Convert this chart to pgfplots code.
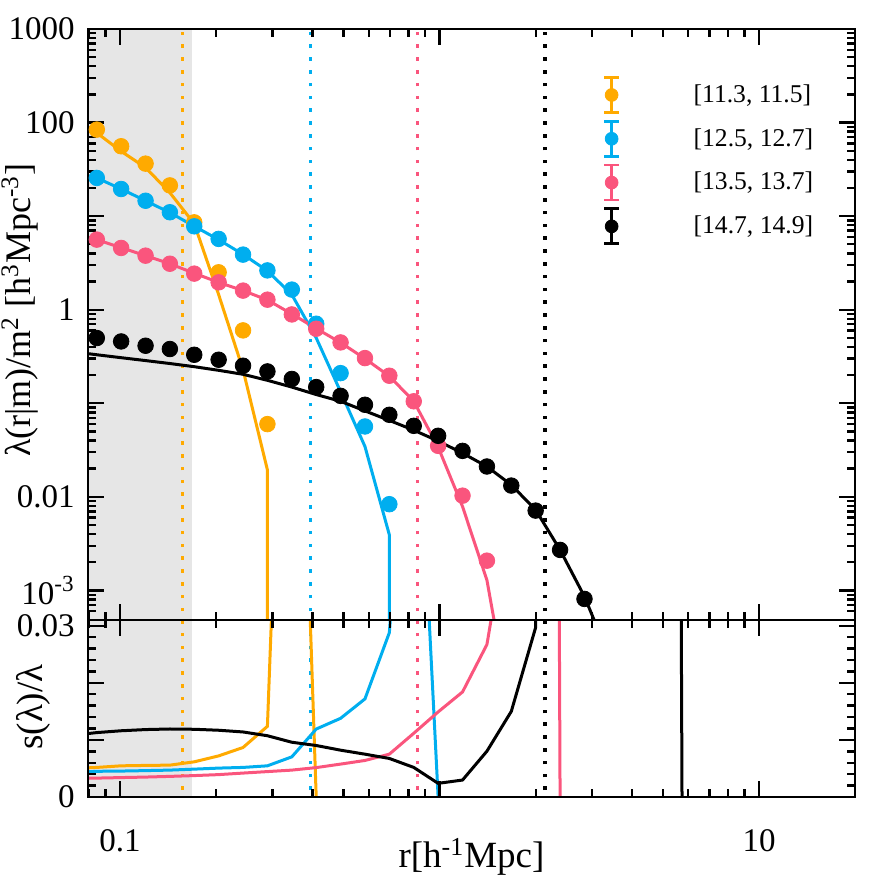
\documentclass[border=0pt]{standalone}
\usepackage{fontspec}
\setmainfont{Liberation Serif}
\usepackage{pgfplots}
\pgfplotsset{compat=1.18}

\definecolor{orC}{RGB}{255,170,0}
\definecolor{blC}{RGB}{0,174,239}
\definecolor{pkC}{RGB}{250,85,125}
\definecolor{grayband}{RGB}{230,230,230}

\tikzset{
  modelcurve/.style={line width=1.5pt},
  cutline/.style={line width=1.8pt, dash pattern=on 1.8pt off 4.6pt},
}
\newcommand{\tickfont}{\fontsize{16.5}{19}\selectfont}
\newcommand{\labfont}{\fontsize{18.5}{21}\selectfont}

\begin{document}
\begin{tikzpicture}
\path[use as bounding box] (0,0) rectangle (443pt,443pt);

% ---------------- upper panel: lambda(r|m)/m^2 ----------------
\begin{axis}[
  scale only axis, width=383.5pt, height=295.5pt,
  at={(44pt,133pt)}, anchor=south west,
  xmode=log, xmin=0.0794, xmax=19.95,
  ymode=log, ymin=4.83e-4, ymax=1000,
  axis on top,
  axis line style={line width=1.4pt},
  tick align=inside,
  major tick length=8pt, minor tick length=3.8pt,
  every tick/.style={black, line width=1.2pt},
  xtick={0.1,1,10},
  minor xtick={0.08,0.09,0.2,0.3,0.4,0.5,0.6,0.7,0.8,0.9,2,3,4,5,6,7,8,9},
  xticklabels={},
  ytick={0.001,0.01,0.1,1,10,100,1000},
  yticklabels={10\textsuperscript{-3},0.01,,1,,100,1000},
  minor ytick={6e-4,7e-4,8e-4,9e-4,
    2e-3,3e-3,4e-3,5e-3,6e-3,7e-3,8e-3,9e-3,
    0.02,0.03,0.04,0.05,0.06,0.07,0.08,0.09,
    0.2,0.3,0.4,0.5,0.6,0.7,0.8,0.9,
    2,3,4,5,6,7,8,9,20,30,40,50,60,70,80,90,
    200,300,400,500,600,700,800,900},
  yticklabel style={font=\tickfont, inner sep=1.5pt, xshift=-5pt},
  ylabel={λ(r|m)/m\textsuperscript{2} [h\textsuperscript{3}Mpc\textsuperscript{-3}]},
  ylabel style={font=\fontsize{18}{21}\selectfont,
    at={(axis description cs:-0.0887,0.524)}, anchor=center},
  legend cell align=left,
  legend style={at={(axis description cs:0.6711,0.9254)}, anchor=north west,
    draw=none, fill=none, inner sep=0pt, outer sep=0pt, row sep=0pt,
    font=\fontsize{12.8}{15}\selectfont},
  legend image code/.code={
    \draw[line width=1.4pt] (4pt,-8.75pt) -- (4pt,8.75pt)
      (0.25pt,-8.75pt) -- (7.75pt,-8.75pt)
      (0.25pt,8.75pt) -- (7.75pt,8.75pt);
    \fill (4pt,0pt) circle (3.2pt);
    \path[draw=none, fill=none] (0pt,-10.95pt) rectangle (43pt,10.95pt);
  },
]
\fill[grayband] (axis cs:0.01,1e-6) rectangle (axis cs:0.168,1e5);

\addplot[cutline, orC, forget plot] coordinates {(0.157,1e-5) (0.157,1e4)};
\addplot[cutline, blC, forget plot] coordinates {(0.395,1e-5) (0.395,1e4)};
\addplot[cutline, pkC, forget plot] coordinates {(0.852,1e-5) (0.852,1e4)};
\addplot[cutline, black, forget plot] coordinates {(2.14,1e-5) (2.14,1e4)};

% model curves
\addplot[modelcurve, orC, no markers, forget plot] coordinates {
  (0.0846,77.6) (0.1008,49.3) (0.1202,33.0) (0.1432,17.8) (0.1707,8.3)
  (0.2035,1.45) (0.2426,0.228) (0.2892,0.0194) (0.2892,1e-6)};
\addplot[modelcurve, blC, no markers, forget plot] coordinates {
  (0.0846,25.6) (0.1008,19.5) (0.1202,14.6) (0.1432,10.9) (0.1707,7.8)
  (0.2035,5.6) (0.2426,3.9) (0.2892,2.6) (0.3448,1.45) (0.4110,0.5)
  (0.4899,0.133) (0.5840,0.0345) (0.6962,0.00393) (0.6962,1e-6)};
\addplot[modelcurve, pkC, no markers, forget plot] coordinates {
  (0.0846,5.6) (0.1008,4.6) (0.1202,3.78) (0.1432,3.1) (0.1707,2.45)
  (0.2035,1.96) (0.2426,1.6) (0.2892,1.27) (0.3448,0.9) (0.4110,0.63)
  (0.4899,0.445) (0.5840,0.3) (0.6962,0.195) (0.8300,0.105) (0.9894,0.034)
  (1.1796,0.00788) (1.4061,0.00129) (1.6763,4.5e-5)};
\addplot[modelcurve, black, no markers, forget plot] coordinates {
  (0.0794,0.339) (0.0846,0.330) (0.1008,0.307) (0.1202,0.286) (0.1432,0.266)
  (0.1707,0.246) (0.2035,0.225) (0.2426,0.204) (0.2892,0.176) (0.3448,0.149)
  (0.4110,0.124) (0.4899,0.105) (0.5840,0.0829) (0.6962,0.0656) (0.8300,0.0516)
  (0.9894,0.0395) (1.1796,0.0293) (1.4061,0.0211) (1.6763,0.0134) (1.998,0.00726)
  (2.382,0.00271) (2.840,0.000859) (3.385,0.0002)};

% measurements
\addplot[only marks, mark=*, mark size=3.9pt, orC, forget plot] coordinates {
  (0.0846,84.1) (0.1008,55.8) (0.1202,36.4) (0.1432,21.3) (0.1707,8.58)
  (0.2035,2.51) (0.2426,0.601) (0.2892,0.0599)};
\addplot[only marks, mark=*, mark size=3.9pt, blC, forget plot] coordinates {
  (0.0846,25.6) (0.1008,19.5) (0.1202,14.6) (0.1432,11.0) (0.1707,7.78)
  (0.2035,5.71) (0.2426,3.88) (0.2892,2.63) (0.3448,1.64) (0.4110,0.708)
  (0.4899,0.210) (0.5840,0.0565) (0.6962,0.00835)};
\addplot[only marks, mark=*, mark size=3.9pt, pkC, forget plot] coordinates {
  (0.0846,5.61) (0.1008,4.57) (0.1202,3.78) (0.1432,3.10) (0.1707,2.43)
  (0.2035,1.96) (0.2426,1.60) (0.2892,1.28) (0.3448,0.89) (0.4110,0.626)
  (0.4899,0.447) (0.5840,0.304) (0.6962,0.197) (0.8300,0.105) (0.9894,0.0351)
  (1.1796,0.0103) (1.4061,0.00208)};
\addplot[only marks, mark=*, mark size=3.9pt, black, forget plot] coordinates {
  (0.0846,0.498) (0.1008,0.458) (0.1202,0.412) (0.1432,0.380) (0.1707,0.330)
  (0.2035,0.292) (0.2426,0.252) (0.2892,0.219) (0.3448,0.182) (0.4110,0.149)
  (0.4899,0.120) (0.5840,0.0964) (0.6962,0.0753) (0.8300,0.0574) (0.9894,0.0449)
  (1.1796,0.0310) (1.4061,0.0211) (1.6763,0.0132) (1.998,0.00713) (2.382,0.00271)
  (2.840,0.000811)};

\addlegendimage{draw=orC, fill=orC}
\addlegendentry{[11.3, 11.5]}
\addlegendimage{draw=blC, fill=blC}
\addlegendentry{[12.5, 12.7]}
\addlegendimage{draw=pkC, fill=pkC}
\addlegendentry{[13.5, 13.7]}
\addlegendimage{draw=black, fill=black}
\addlegendentry{[14.7, 14.9]}
\end{axis}

% ---------------- lower panel: relative scatter ----------------
\begin{axis}[
  scale only axis, width=383.5pt, height=88.5pt,
  at={(44pt,44.5pt)}, anchor=south west,
  xmode=log, xmin=0.0794, xmax=19.95,
  ymin=0, ymax=0.031,
  axis on top,
  axis line style={line width=1.4pt},
  tick align=inside,
  major tick length=8pt, minor tick length=3.8pt,
  every tick/.style={black, line width=1.2pt},
  xtick={0.1,1,10},
  minor xtick={0.08,0.09,0.2,0.3,0.4,0.5,0.6,0.7,0.8,0.9,2,3,4,5,6,7,8,9},
  xticklabels={0.1,,10},
  scaled y ticks=false,
  ytick={0,0.01,0.02,0.03}, yticklabels={0,,,0.03},
  minor y tick num=4,
  yticklabel style={font=\tickfont, inner sep=1.5pt, xshift=-5pt},
  xticklabel style={font=\tickfont, inner sep=1.5pt, yshift=-14.5pt},
  xlabel={r[h\textsuperscript{-1}Mpc]},
  xlabel style={font=\labfont,
    at={(axis description cs:0.5,-0.339)}, anchor=center},
  ylabel={s(λ)/λ},
  ylabel style={font=\labfont,
    at={(axis description cs:-0.0717,0.508)}, anchor=center},
]
\fill[grayband] (axis cs:0.01,-1) rectangle (axis cs:0.168,1);

\addplot[cutline, orC] coordinates {(0.157,-0.01) (0.157,0.05)};
\addplot[cutline, blC] coordinates {(0.395,-0.01) (0.395,0.05)};
\addplot[cutline, pkC] coordinates {(0.852,-0.01) (0.852,0.05)};
\addplot[cutline, black] coordinates {(2.14,-0.01) (2.14,0.05)};

\addplot[modelcurve, orC, no markers] coordinates {
  (0.0794,0.00511) (0.0846,0.00518) (0.1008,0.00546) (0.1202,0.00553) (0.1432,0.00558)
  (0.1707,0.00616) (0.2035,0.0072) (0.2426,0.00867) (0.2892,0.01238) (0.3448,0.127)
  (0.4110,0)};
\addplot[modelcurve, blC, no markers] coordinates {
  (0.0794,0.00441) (0.0846,0.0045) (0.1008,0.00454) (0.1202,0.00462) (0.1432,0.00471)
  (0.1707,0.00488) (0.2035,0.00506) (0.2426,0.00518) (0.2892,0.00546) (0.3448,0.00703)
  (0.4110,0.0119) (0.4899,0.01378) (0.5840,0.01718) (0.6962,0.02878) (0.8300,0.0845)
  (0.9894,0)};
\addplot[modelcurve, pkC, no markers] coordinates {
  (0.0794,0.00328) (0.0846,0.00331) (0.1008,0.0034) (0.1202,0.00349) (0.1432,0.00361)
  (0.1707,0.00375) (0.2035,0.00392) (0.2426,0.00419) (0.2892,0.00445) (0.3448,0.00471)
  (0.4110,0.00515) (0.4899,0.00576) (0.5840,0.0064) (0.6962,0.0075) (0.8300,0.01116)
  (0.9894,0.0149) (1.1796,0.0184) (1.4061,0.0267) (1.6763,0.052) (1.998,1)
  (2.382,0)};
\addplot[modelcurve, black, no markers] coordinates {
  (0.0794,0.01111) (0.0846,0.01128) (0.1008,0.0116) (0.1202,0.01181) (0.1432,0.01191)
  (0.1707,0.01186) (0.2035,0.01169) (0.2426,0.01139) (0.2892,0.01073) (0.3448,0.00959)
  (0.4110,0.00902) (0.4899,0.0082) (0.5840,0.0075) (0.6962,0.00675) (0.8300,0.00518)
  (0.9894,0.00239) (1.1796,0.00297) (1.4061,0.00802) (1.6763,0.015) (1.998,0.0297)
  (2.382,1) (2.840,1) (3.385,1) (4.036,1) (4.811,1) (5.735,0)};
\end{axis}
\end{tikzpicture}
\end{document}
